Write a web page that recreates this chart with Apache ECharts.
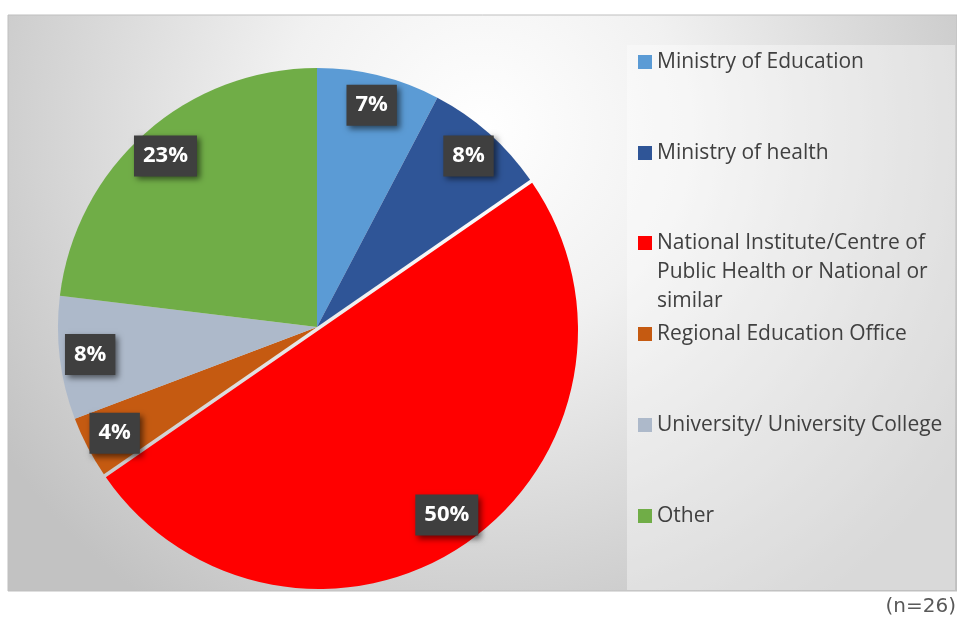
<!DOCTYPE html>
<html>
<head>
<meta charset="utf-8">
<script src="https://cdn.jsdelivr.net/npm/echarts@6/dist/echarts.min.js"></script>
<style>
  html, body { margin: 0; padding: 0; background: #fff; }
  #chart { width: 957px; height: 619px; }
</style>
</head>
<body>
<div id="chart"></div>
<script>
// data (n=26)
var categories = ['Ministry of Education', 'Ministry of health', 'National Institute/Centre of Public Health or National or similar', 'Regional Education Office', 'University/ University College', 'Other'];
var legendText = ['Ministry of Education', 'Ministry of health', 'National Institute/Centre of\nPublic Health or National or\nsimilar', 'Regional Education Office', 'University/ University College', 'Other'];
var counts = [2, 2, 13, 1, 2, 6];
var pctLabels = ['7%', '8%', '50%', '4%', '8%', '23%'];
var colors = ['#5B9BD5', '#2F5597', '#FF0000', '#C55A11', '#ADB9CA', '#70AD47'];

var chart = echarts.init(document.getElementById('chart'));

var pieCenter = [317, 327];
var pieR = 259;
var redIdx = 2;

// legend: one per entry so every icon sits 91px apart
var legendTops = [62, 153, 243, 334, 425, 516];
var legends = categories.map(function (name, i) {
  var multi = legendText[i].indexOf('\n') >= 0;
  // two blank lines in front keep the first line level with the icon
  var txt = multi ? '\n\n' + legendText[i] : legendText[i];
  return {
    data: [{ name: name, itemStyle: { color: colors[i] } }],
    left: 638,
    top: multi ? legendTops[i] - 72.5 : legendTops[i] - 14.5,
    padding: 0,
    orient: 'vertical',
    icon: 'rect',
    itemWidth: 14,
    itemHeight: 14,
    selectedMode: false,
    formatter: function () { return txt; },
    textStyle: {
      fontFamily: 'Open Sans',
      fontSize: 21,
      color: '#404040',
      lineHeight: 29
    }
  };
});

var mainData = categories.map(function (name, i) {
  return { name: name, value: counts[i], itemStyle: { color: i === redIdx ? 'transparent' : colors[i] } };
});
var redData = categories.map(function (name, i) {
  return { name: name, value: counts[i], itemStyle: { color: i === redIdx ? colors[i] : 'transparent' } };
});
var labelData = categories.map(function (name, i) {
  return { name: name, value: counts[i], label: { formatter: pctLabels[i] } };
});

var option = {
  animation: false,
  color: colors,
  graphic: [
    {
      type: 'rect', z: -10,
      shape: { x: 8, y: 15, width: 949, height: 576 },
      style: {
        fill: new echarts.graphic.RadialGradient(0.5, 0.2, 1.0, [
          { offset: 0, color: '#ffffff' },
          { offset: 0.35, color: '#f1f1f1' },
          { offset: 1, color: '#c2c2c2' }
        ]),
        stroke: '#bfbfbf', lineWidth: 1
      }
    },
    {
      type: 'rect', z: -9,
      shape: { x: 627, y: 45, width: 328, height: 545 },
      style: { fill: 'rgba(255,255,255,0.38)' }
    },
    {
      type: 'text', z: 5,
      style: {
        text: '(n=26)', x: 956, y: 607, align: 'right', verticalAlign: 'middle',
        fontFamily: 'DejaVu Sans', fontSize: 20, fill: '#595959'
      }
    }
  ],
  legend: legends,
  series: [
    {
      type: 'pie',
      center: pieCenter,
      radius: [0, pieR],
      clockwise: true,
      startAngle: 90,
      label: { show: false },
      labelLine: { show: false },
      emphasis: { disabled: true },
      data: mainData
    },
    {
      // exploded red slice
      type: 'pie',
      center: [pieCenter[0] + 2, pieCenter[1] + 3],
      radius: [0, pieR],
      startAngle: 90,
      label: { show: false },
      labelLine: { show: false },
      emphasis: { disabled: true },
      data: redData
    },
    {
      // label ring
      type: 'pie',
      center: pieCenter,
      radius: [192, pieR],
      startAngle: 90,
      silent: true,
      itemStyle: { color: 'transparent' },
      labelLine: { show: false },
      label: {
        show: true,
        position: 'inside',
        fontFamily: 'Open Sans',
        fontWeight: 'bold',
        fontSize: 22,
        lineHeight: 25,
        color: '#ffffff',
        backgroundColor: '#3f3f3f',
        padding: [8, 9],
        shadowColor: 'rgba(0,0,0,0.55)',
        shadowBlur: 6,
        shadowOffsetX: 3,
        shadowOffsetY: 3
      },
      emphasis: { disabled: true },
      data: labelData
    }
  ]
};
chart.setOption(option);
window.addEventListener('resize', function () { chart.resize(); });
</script>
</body>
</html>
